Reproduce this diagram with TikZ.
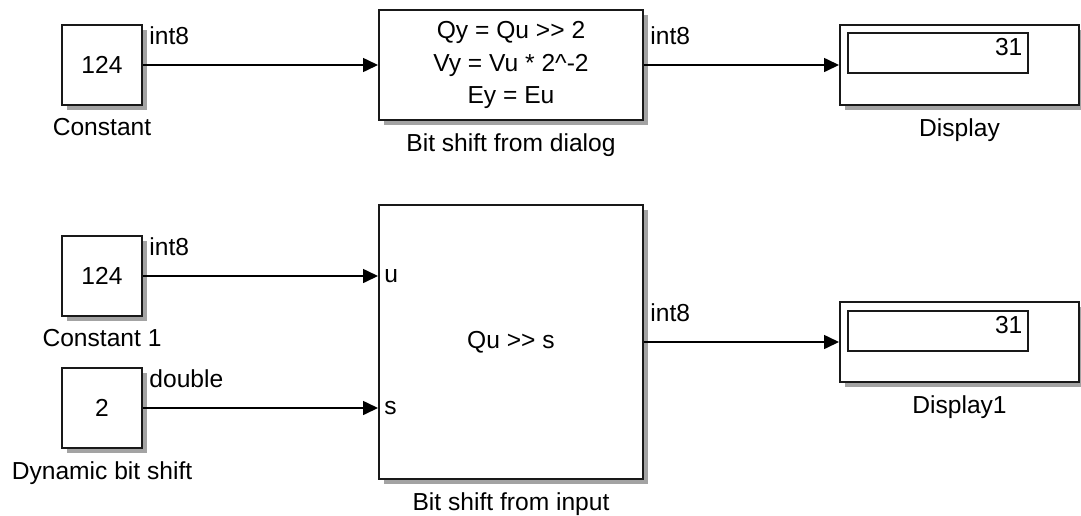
\documentclass[tikz,border=0pt]{standalone}
\usepackage{fontspec}
\setmainfont{Liberation Sans}
\usetikzlibrary{arrows.meta,positioning,shadows}

\tikzset{
  block/.style={draw=black!90, line width=1pt, fill=white, inner sep=0pt,
    align=center,
    drop shadow={shadow xshift=2.5pt, shadow yshift=-2.5pt, fill=black!60, opacity=0.6}},
  readout/.style={draw=black!90, line width=0.8pt, fill=white, inner sep=0pt,
    minimum width=90pt, minimum height=20pt},
  sig/.style={-{Triangle[length=7.5pt,width=7pt]}, line width=0.8pt},
  typelab/.style={inner sep=1pt},
  blockname/.style={inner sep=1pt}
}

\begin{document}
\begin{tikzpicture}[
  x=0.5pt, y=-0.5pt,
  every node/.style={font=\fontsize{12.3}{16.3}\selectfont}
]
  \useasboundingbox (0,0) rectangle (1081,515);

  % Obere Reihe: Schieben mit festem Wert
  \node[block, minimum width=40pt, minimum height=40pt] (const) at (102,65) {124};
  \node[block, minimum width=132pt, minimum height=55pt] (bsdlg) at (511,65)
    {Qy = Qu >{}> 2\\Vy = Vu * 2\textasciicircum-2\\Ey = Eu};
  \node[block, minimum width=119.5pt, minimum height=40pt] (disp) at (959.5,65) {};
  \node[readout] (disptxt) at (938,53) {};
  \node[anchor=north east, inner sep=3pt] (dispval) at (disptxt.north east) {31};

  % Untere Reihe: Schieben über den Eingang s
  \node[block, minimum width=40pt, minimum height=40pt] (constb) at (102,276) {124};
  \node[block, minimum width=40pt, minimum height=40pt] (dynsh) at (102,408) {2};
  \node[block, minimum width=132pt, minimum height=137pt] (bsin) at (511,342) {Qu >{}> s};
  \node[block, minimum width=119.5pt, minimum height=40pt] (dispb) at (959.5,342) {};
  \node[readout] (dispbtxt) at (938,331) {};
  \node[anchor=north east, inner sep=3pt] (dispbval) at (dispbtxt.north east) {31};

  % Ports
  \coordinate (pu) at (constb.east -| bsin.west);
  \coordinate (ps) at (dynsh.east -| bsin.west);
  \node[anchor=west, inner sep=3pt] (portu) at (pu) {u};
  \node[anchor=west, inner sep=3pt] (ports) at (ps) {s};

  % Signale
  \draw[sig] (const) -- (bsdlg);
  \draw[sig] (bsdlg) -- (disp);
  \draw[sig] (constb.east) -- (pu);
  \draw[sig] (dynsh.east) -- (ps);
  \draw[sig] (bsin) -- (dispb);

  % Datentypen
  \node[typelab, above right=9pt and 2pt of const.east] (t1) {int8};
  \node[typelab, above right=9pt and 2pt of bsdlg.east] (t2) {int8};
  \node[typelab, above right=9pt and 2pt of constb.east] (t3) {int8};
  \node[typelab, above right=9pt and 2pt of dynsh.east] (t4) {double};
  \node[typelab, above right=9pt and 2pt of bsin.east] (t5) {int8};

  % Blocknamen
  \node[blockname, below=5pt of const] (n1) {Constant};
  \node[blockname, below=5pt of bsdlg] (n2) {Bit shift from dialog};
  \node[blockname, below=5pt of disp] (n3) {Display};
  \node[blockname, below=5pt of constb] (n4) {Constant 1};
  \node[blockname, below=5pt of dynsh] (n5) {Dynamic bit shift};
  \node[blockname, below=5pt of bsin] (n6) {Bit shift from input};
  \node[blockname, below=5pt of dispb] (n7) {Display1};
\end{tikzpicture}
\end{document}
